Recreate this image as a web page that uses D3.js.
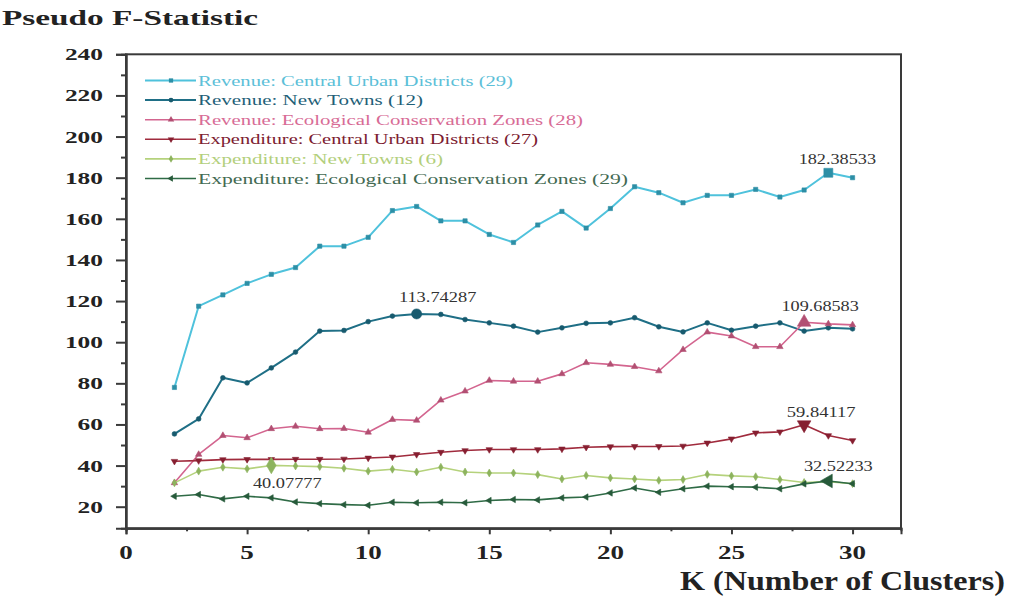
<!DOCTYPE html>
<html><head><meta charset="utf-8">
<script src="https://cdn.jsdelivr.net/npm/d3@7"></script>
<style>
body{margin:0;background:#fff}
svg{display:block}
text{font-family:"Liberation Serif","Times New Roman",serif}
</style>
</head><body>
<svg id="chart" width="1010" height="596"></svg>
<script>
// K (number of clusters) tested
const kValues = [2,3,4,5,6,7,8,9,10,11,12,13,14,15,16,17,18,19,20,21,22,23,24,25,26,27,28,29,30];

// Pseudo F-statistic per K for each group
const revenueCentral = [78,117.5,123,128.6,133,136.3,146.7,146.7,151,164,166,159,159,152.4,148.5,157,163.6,155.5,165,175.6,172.7,167.8,171.4,171.4,174.3,170.6,174,182.38533,180];
const revenueNewTowns = [55.4,62.7,82.7,80.2,87.5,95.2,105.4,105.7,110,112.7,113.74287,113.5,111,109.4,107.8,104.9,107,109.2,109.4,111.9,107.5,105,109.4,105.8,107.8,109.4,105.4,107,106.5];
const revenueEco = [31.6,45.4,54.6,53.5,57.9,59.1,57.9,58,56.2,62.4,62,71.8,76.2,81.4,81,81,84.6,90,89.2,88.1,86,96.4,104.9,103,97.8,97.8,109.68583,108.9,108.4];
const expenditureCentral = [42.1,42.4,42.9,43,43,43.1,43.1,43.2,43.7,44.2,45.4,46.5,47.3,47.8,47.8,47.8,48.1,48.9,49.2,49.3,49.3,49.5,51,53,55.9,56.4,59.84117,54.6,52.2];
const expenditureNewTowns = [31.6,37.3,39.2,38.4,40.07777,39.8,39.5,38.7,37.3,38.2,36.9,39.2,36.9,36.4,36.4,35.6,33.5,35.2,34,33.5,32.8,33.2,35.7,35,34.6,33.2,31.8,32.2,31.2];
const expenditureEco = [25.1,25.9,23.8,25.1,24.3,22.3,21.5,21,20.7,22.2,21.9,22.2,21.9,23,23.5,23.3,24.3,24.7,26.7,29.1,27,28.7,30,29.7,29.5,28.7,31.1,32.52233,31.2];

// Legend names (optimal K in parentheses)
const seriesNames = [
  "Revenue: Central Urban Districts (29)",
  "Revenue: New Towns (12)",
  "Revenue: Ecological Conservation Zones (28)",
  "Expenditure: Central Urban Districts (27)",
  "Expenditure: New Towns (6)",
  "Expenditure: Ecological Conservation Zones (29)"
];
// K at which each series peaks (annotated)
const peakK = [29, 12, 28, 28, 6, 29];

// Axis ticks
const yTicks = [20,40,60,80,100,120,140,160,180,200,220,240];
const xTicks = [0,5,10,15,20,25,30];

const seriesValues = [revenueCentral, revenueNewTowns, revenueEco, expenditureCentral, expenditureNewTowns, expenditureEco];

const styles = [
  {line:"#4fc2dc", mark:"#2d8fa6", text:"#5cc0d8", sym:d3.symbolSquare, rot:0, w:2},
  {line:"#1f6f86", mark:"#175a6e", text:"#1f5f78", sym:d3.symbolCircle, rot:0, w:2},
  {line:"#d3658f", mark:"#b24f72", text:"#d86c96", sym:d3.symbolTriangle, rot:0, w:1.6},
  {line:"#a02b3d", mark:"#861f30", text:"#7c2030", sym:d3.symbolTriangle, rot:180, w:1.6},
  {line:"#b5d27c", mark:"#8db35e", text:"#b3cf7c", sym:d3.symbolDiamond, rot:0, w:1.6},
  {line:"#2f6b46", mark:"#265a3a", text:"#436a52", sym:d3.symbolTriangle, rot:-90, w:1.6}
];
// label offsets (px) relative to the peak point
const labelOffsets = [[9,-8.5],[21,-11.5],[16,-11],[17,-8],[16,23],[10,-9.5]];

const svg = d3.select("#chart");
const x = d3.scaleLinear().domain([0,32]).range([126,901]);
const y = d3.scaleLinear().domain([9.5,240]).range([528.3,54.3]);

// frame
svg.append("rect").attr("x",126).attr("y",54.3).attr("width",901-126).attr("height",528.3-54.3)
  .attr("fill","none").attr("stroke","#3a3a3a").attr("stroke-width",2);

// y axis
const yAxis = d3.axisLeft(y).tickValues(yTicks).tickSize(10).tickFormat("");
const gy = svg.append("g").attr("transform","translate(126,0)").call(yAxis);
const yMinor = d3.axisLeft(y).tickValues(d3.range(30,240,20)).tickSize(5).tickFormat("");
const gym = svg.append("g").attr("transform","translate(126,0)").call(yMinor);
// x axis
const xAxis = d3.axisBottom(x).tickValues(xTicks).tickSize(6).tickFormat("");
const gx = svg.append("g").attr("transform","translate(0,528.3)").call(xAxis);
const xMinor = d3.axisBottom(x).tickValues(d3.range(2.5,32,5)).tickSize(3).tickFormat("");
const gxm = svg.append("g").attr("transform","translate(0,528.3)").call(xMinor);
[gy,gym,gx,gxm].forEach(g=>{
  g.select(".domain").attr("stroke","#3a3a3a").attr("stroke-width",2);
  g.selectAll(".tick line").attr("stroke","#3a3a3a").attr("stroke-width",2);
});

// tick labels (bold, wide serif digits)
svg.append("g").selectAll("text").data(yTicks).join("text")
  .attr("x",103).attr("y",d=>y(d)+6).attr("text-anchor","end")
  .attr("font-size",17).attr("font-weight","bold").attr("fill","#222")
  .attr("textLength",d=>String(d).length*12.7).attr("lengthAdjust","spacingAndGlyphs")
  .text(d=>d);
svg.append("g").selectAll("text").data(xTicks).join("text")
  .attr("x",d=>x(d)).attr("y",559).attr("text-anchor","middle")
  .attr("font-size",18).attr("font-weight","bold").attr("fill","#222")
  .attr("textLength",d=>String(d).length*13.5).attr("lengthAdjust","spacingAndGlyphs")
  .text(d=>d);

// axis titles
svg.append("text").attr("x",2).attr("y",25).attr("font-size",22).attr("font-weight","bold").attr("fill","#222")
  .attr("textLength",256).attr("lengthAdjust","spacingAndGlyphs").text("Pseudo F-Statistic");
svg.append("text").attr("x",680).attr("y",590).attr("font-size",27).attr("font-weight","bold").attr("fill","#222")
  .attr("textLength",325).attr("lengthAdjust","spacingAndGlyphs").text("K (Number of Clusters)");

// series
const line = d3.line().x((d,i)=>x(kValues[i])).y(d=>y(d));
const plot = svg.append("g");
seriesValues.forEach((vals,si)=>{
  const st = styles[si];
  plot.append("path").datum(vals).attr("d",line).attr("fill","none")
    .attr("stroke",st.line).attr("stroke-width",st.w).attr("stroke-linejoin","round");
  plot.append("g").selectAll("path").data(vals).join("path")
    .attr("d",(d,i)=>d3.symbol().type(st.sym).size(kValues[i]===peakK[si]?80:18)())
    .attr("transform",(d,i)=>`translate(${x(kValues[i])},${y(d)}) rotate(${st.rot})`)
    .attr("fill",st.mark).attr("stroke",st.mark).attr("stroke-width",0.6);
});

// peak annotations
seriesValues.forEach((vals,si)=>{
  const idx = kValues.indexOf(peakK[si]);
  const v = vals[idx];
  const label = String(v);
  const [dx,dy] = labelOffsets[si];
  svg.append("text").attr("x",x(peakK[si])+dx).attr("y",y(v)+dy).attr("text-anchor","middle")
    .attr("font-size",14).attr("fill","#333")
    .attr("textLength",label.length*8.6).attr("lengthAdjust","spacingAndGlyphs")
    .text(label);
});

// legend
const legendWidths = [315,225,385,340,245,430];
const lg = svg.append("g");
seriesNames.forEach((name,i)=>{
  const st = styles[i];
  const cy = 80.5 + i*19.6;
  lg.append("line").attr("x1",145).attr("x2",196).attr("y1",cy).attr("y2",cy)
    .attr("stroke",st.line).attr("stroke-width",st.w);
  lg.append("path").attr("d",d3.symbol().type(st.sym).size(18)())
    .attr("transform",`translate(171,${cy}) rotate(${st.rot})`).attr("fill",st.mark);
  lg.append("text").attr("x",198).attr("y",cy+5).attr("font-size",15).attr("fill",st.text)
    .attr("textLength",legendWidths[i]).attr("lengthAdjust","spacingAndGlyphs").text(name);
});
</script>
</body></html>
